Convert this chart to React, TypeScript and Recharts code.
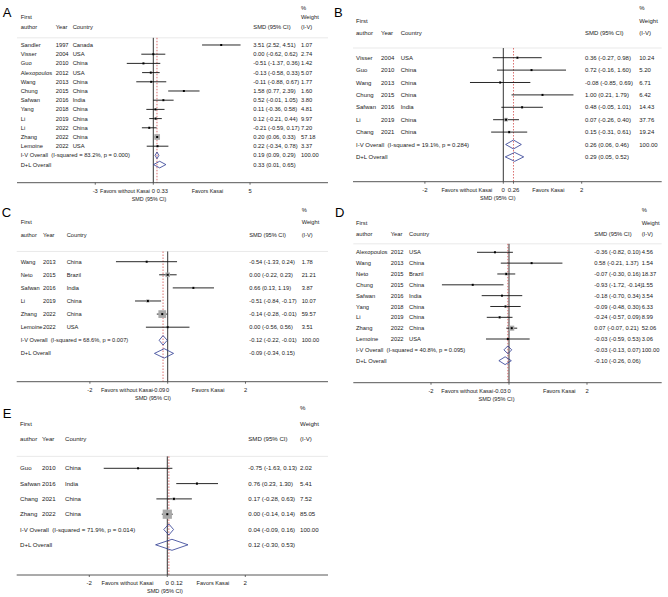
import { ScatterChart, Scatter, XAxis, YAxis, ErrorBar, ReferenceLine } from 'recharts';

// ---------- A: all studies ----------
const aAuthor = ['Sandler', 'Visser', 'Guo', 'Alexopoulos', 'Wang', 'Chung', 'Safwan', 'Yang', 'Li', 'Li', 'Zhang', 'Lemoine'];
const aYear = [1997, 2004, 2010, 2012, 2013, 2015, 2016, 2018, 2019, 2022, 2022, 2022];
const aCountry = ['Canada', 'USA', 'China', 'USA', 'China', 'China', 'India', 'China', 'China', 'China', 'China', 'USA'];
const aSmd = [3.51, 0.0, -0.51, -0.13, -0.11, 1.58, 0.52, 0.11, 0.12, -0.21, 0.2, 0.22];
const aLow = [2.52, -0.62, -1.37, -0.58, -0.88, 0.77, -0.01, -0.36, -0.21, -0.59, 0.06, -0.34];
const aHigh = [4.51, 0.62, 0.36, 0.33, 0.67, 2.39, 1.05, 0.58, 0.44, 0.17, 0.33, 0.78];
const aWeight = [1.07, 2.74, 1.42, 5.07, 1.77, 1.6, 3.8, 4.81, 9.97, 7.2, 57.18, 3.37];
const aPooled = [[0.19, 0.09, 0.29], [0.33, 0.01, 0.65]]; // I-V, D+L
const aHet = ['83.2', '0.000'];
const aTicks = [-3, 0, 0.33, 5];

// ---------- B ----------
const bAuthor = ['Visser', 'Guo', 'Wang', 'Chung', 'Safwan', 'Li', 'Chang'];
const bYear = [2004, 2010, 2013, 2015, 2016, 2019, 2021];
const bCountry = ['USA', 'China', 'China', 'China', 'India', 'China', 'China'];
const bSmd = [0.36, 0.72, -0.08, 1.0, 0.48, 0.07, 0.15];
const bLow = [-0.27, -0.16, -0.85, 0.21, -0.05, -0.26, -0.31];
const bHigh = [0.98, 1.6, 0.69, 1.79, 1.01, 0.4, 0.61];
const bWeight = [10.24, 5.2, 6.71, 6.42, 14.43, 37.76, 19.24];
const bPooled = [[0.26, 0.06, 0.46], [0.29, 0.05, 0.52]];
const bHet = ['19.1', '0.284'];
const bTicks = [-2, 0, 0.26, 2];

// ---------- C ----------
const cAuthor = ['Wang', 'Neto', 'Safwan', 'Li', 'Zhang', 'Lemoine'];
const cYear = [2013, 2015, 2016, 2019, 2022, 2022];
const cCountry = ['China', 'Brazil', 'India', 'China', 'China', 'USA'];
const cSmd = [-0.54, 0.0, 0.66, -0.51, -0.14, 0.0];
const cLow = [-1.33, -0.22, 0.13, -0.84, -0.28, -0.56];
const cHigh = [0.24, 0.23, 1.19, -0.17, -0.01, 0.56];
const cWeight = [1.78, 21.21, 3.87, 10.07, 59.57, 3.51];
const cPooled = [[-0.12, -0.22, -0.01], [-0.09, -0.34, 0.15]];
const cHet = ['68.6', '0.007'];
const cTicks = [-2, -0.09, 0, 2];

// ---------- D ----------
const dAuthor = ['Alexopoulos', 'Wang', 'Neto', 'Chung', 'Safwan', 'Yang', 'Li', 'Zhang', 'Lemoine'];
const dYear = [2012, 2013, 2015, 2015, 2016, 2018, 2019, 2022, 2022];
const dCountry = ['USA', 'China', 'Brazil', 'China', 'India', 'China', 'China', 'China', 'USA'];
const dSmd = [-0.36, 0.58, -0.07, -0.93, -0.18, -0.09, -0.24, 0.07, -0.03];
const dLow = [-0.82, -0.21, -0.3, -1.72, -0.7, -0.48, -0.57, -0.07, -0.59];
const dHigh = [0.1, 1.37, 0.16, -0.14, 0.34, 0.3, 0.09, 0.21, 0.53];
const dWeight = [4.56, 1.54, 18.37, 1.55, 3.54, 6.33, 8.99, 52.06, 3.06];
const dPooled = [[-0.03, -0.13, 0.07], [-0.1, -0.26, 0.06]];
const dHet = ['40.8', '0.095'];
const dTicks = [-2, -0.03, 0, 2];

// ---------- E ----------
const eAuthor = ['Guo', 'Safwan', 'Chang', 'Zhang'];
const eYear = [2010, 2016, 2021, 2022];
const eCountry = ['China', 'India', 'China', 'China'];
const eSmd = [-0.75, 0.76, 0.17, 0.0];
const eLow = [-1.63, 0.23, -0.28, -0.14];
const eHigh = [0.13, 1.3, 0.63, 0.14];
const eWeight = [2.02, 5.41, 7.52, 85.05];
const ePooled = [[0.04, -0.09, 0.16], [0.12, -0.3, 0.53]];
const eHet = ['71.9', '0.014'];
const eTicks = [-2, 0, 0.12, 2];

// page layout of each panel (pixels, page coordinates)
const layoutA = { ox: 0, oy: 0, w: 336, axisL: 17, axisR: 328, zero: 153.3, ppu: 19.35, row0: 45, step: 9.2, axisY: 182.7, hdr: [-4, -3, -2], cols: [20.7, 55.7, 72.7, 253.3, 301], box: 0.75, fs: 5.8, afs: 5.4, favors: [-1.46, 2.8], title: -0.22 };
const layoutB = { ox: 334, oy: 0, w: 334, axisL: 353, axisR: 661.7, zero: 503.3, ppu: 39.2, row0: 57.7, step: 12.4, axisY: 181.7, hdr: [-4, -3, -2], cols: [356, 381, 400.7, 585, 639.3], box: 0.6, fs: 6, afs: 5.5, favors: [-0.93, 1.15], title: -0.14 };
const layoutC = { ox: 0, oy: 202, w: 336, axisL: 16.7, axisR: 328, zero: 167.7, ppu: 38.9, row0: 261.7, step: 13.1, axisY: 381.7, hdr: [-3.95, -3, -2.03], cols: [20.7, 43, 66.7, 249.3, 301.7], box: 1.0, fs: 5.7, afs: 5.6, favors: [-1.05, 1.04], title: -0.38 };
const layoutD = { ox: 334, oy: 202, w: 334, axisL: 353.3, axisR: 661.7, zero: 509, ppu: 39, row0: 252.3, step: 10.84, axisY: 382.7, hdr: [-3.9, -2.73, -1.66], cols: [356, 390.7, 409, 594.3, 641.7], box: 0.7, fs: 5.8, afs: 5.6, favors: [-1.07, 1.29], title: -0.32 };
const layoutE = { ox: 0, oy: 397, w: 336, axisL: 16.7, axisR: 328, zero: 167.3, ppu: 39, row0: 468.3, step: 15.3, axisY: 575, hdr: [-3.96, -2.94, -1.96], cols: [20, 42, 65, 248.3, 300], box: 1.0, fs: 6.1, afs: 5.6, favors: [-1.02, 1.17], title: -0.06 };

const panels = [
  { id: 'A', author: aAuthor, year: aYear, country: aCountry, smd: aSmd, low: aLow, high: aHigh, weight: aWeight, pooled: aPooled, het: aHet, ticks: aTicks, L: layoutA, lx: 2.7, ly: 16.7 },
  { id: 'B', author: bAuthor, year: bYear, country: bCountry, smd: bSmd, low: bLow, high: bHigh, weight: bWeight, pooled: bPooled, het: bHet, ticks: bTicks, L: layoutB, lx: 334, ly: 17.3 },
  { id: 'C', author: cAuthor, year: cYear, country: cCountry, smd: cSmd, low: cLow, high: cHigh, weight: cWeight, pooled: cPooled, het: cHet, ticks: cTicks, L: layoutC, lx: 1.7, ly: 217 },
  { id: 'D', author: dAuthor, year: dYear, country: dCountry, smd: dSmd, low: dLow, high: dHigh, weight: dWeight, pooled: dPooled, het: dHet, ticks: dTicks, L: layoutD, lx: 335, ly: 217.3 },
  { id: 'E', author: eAuthor, year: eYear, country: eCountry, smd: eSmd, low: eLow, high: eHigh, weight: eWeight, pooled: ePooled, het: eHet, ticks: eTicks, L: layoutE, lx: 2.7, ly: 417.7 },
];

const FONT = '"Liberation Sans", Arial, sans-serif';
const INK = '#1a1a1a';
const NAVY = '#2b3990';
const TOP_ROW = -0.78; // where the rule and reference lines start

const fmt = (v: number) => v.toFixed(2);
const ci = (e: number, lo: number, hi: number) => `${fmt(e)} (${fmt(lo)}, ${fmt(hi)})`;

function ForestPanel({ d }: { d: any }) {
  const L = d.L;
  const n = d.author.length;
  const fs = L.fs;
  const xMin = (L.axisL - L.zero) / L.ppu;
  const xMax = (L.axisR - L.zero) / L.ppu;
  const top = 2;
  const axisH = 22;
  const h = L.axisY - L.oy + axisH;
  const yMin = (L.oy + top - L.row0) / L.step;
  const yMax = (L.axisY - L.row0) / L.step;

  const studies = d.smd.map((v: number, i: number) => ({
    x: v, y: i, w: d.weight[i], err: [v - d.low[i], d.high[i] - v],
  }));
  const diamond = (k: number) => {
    const [e, lo, hi] = d.pooled[k];
    const r = n + k;
    return [{ x: lo, y: r }, { x: e, y: r - 0.36 }, { x: hi, y: r }, { x: e, y: r + 0.36 }, { x: lo, y: r }];
  };

  const col = L.cols.map((c: number) => c - L.ox);
  const yTicks = [...L.hdr, ...Array.from({ length: n + 2 }, (_, i) => i)];
  const xTicks = [...d.ticks, ...L.favors, L.title];

  const T = (x: number, y: number, s: string, key: string, size = fs, anchor = 'start') => (
    <text key={key} x={x} y={y} fontSize={size} fill={INK} fontFamily={FONT} textAnchor={anchor} style={{ whiteSpace: 'pre' }}>{s}</text>
  );

  const renderY = (props: any) => {
    const { y, payload } = props;
    const v = payload.value;
    const by = y + fs * 0.36;
    const hi = L.hdr.indexOf(v);
    if (hi === 0) return <g>{T(col[4], by, '%', 'p')}</g>;
    if (hi === 1) return <g>{T(col[0], by, 'First', 'f')}{T(col[4], by, 'Weight', 'w')}</g>;
    if (hi === 2) {
      return (
        <g>
          {T(col[0], by, 'author', 'a')}{T(col[1], by, 'Year', 'y')}{T(col[2], by, 'Country', 'c')}
          {T(col[3], by, 'SMD (95% CI)', 's')}{T(col[4], by, '(I-V)', 'iv')}
        </g>
      );
    }
    if (v < n) {
      return (
        <g>
          {T(col[0], by, d.author[v], 'a')}{T(col[1], by, String(d.year[v]), 'y')}{T(col[2], by, d.country[v], 'c')}
          {T(col[3], by, ci(d.smd[v], d.low[v], d.high[v]), 's')}{T(col[4], by, fmt(d.weight[v]), 'w')}
        </g>
      );
    }
    if (v === n) {
      const [e, lo, hiV] = d.pooled[0];
      return (
        <g>
          {T(col[0], by, `I-V Overall  (I-squared = ${d.het[0]}%, p = ${d.het[1]})`, 'a')}
          {T(col[3], by, ci(e, lo, hiV), 's')}{T(col[4], by, '100.00', 'w')}
        </g>
      );
    }
    const [e, lo, hiV] = d.pooled[1];
    return <g>{T(col[0], by, 'D+L Overall', 'a')}{T(col[3], by, ci(e, lo, hiV), 's')}</g>;
  };

  const renderX = (props: any) => {
    const { x, y, payload } = props;
    const v = payload.value;
    const ay = y - 2; // tickSize 2, tickMargin 0
    const lab = ay + 10.3;
    if (v === L.favors[0]) return T(x, lab, 'Favors without Kasai', 'fw', L.afs, 'middle');
    if (v === L.favors[1]) return T(x, lab, 'Favors Kasai', 'fk', L.afs, 'middle');
    if (v === L.title) return T(x, ay + 18.3, 'SMD (95% CI)', 'tt', L.afs, 'middle');
    const zeroX = x - v * L.ppu;
    let tx = x;
    let anchor = 'middle';
    if (v !== 0 && Math.abs(v * L.ppu) < 8) {
      if (v > 0) { tx = zeroX + 3.5; anchor = 'start'; } else { tx = zeroX - 2.4; anchor = 'end'; }
    }
    return (
      <g>
        {Number.isInteger(v) || Math.abs(v * L.ppu) >= 8 ? <line x1={x} x2={x} y1={ay} y2={ay + 2} stroke="#444" strokeWidth={0.8} /> : null}
        {T(tx, lab, String(v), 'n', fs, anchor)}
      </g>
    );
  };

  const boxShape = (props: any) => {
    const { cx, cy, payload } = props;
    const s = L.box * Math.sqrt(payload.w);
    return <rect x={cx - s / 2} y={cy - s / 2} width={s} height={s} fill="#a9a9a9" />;
  };
  const dot = (props: any) => <rect x={props.cx - 1} y={props.cy - 1} width={2} height={2} fill="#000" />;
  const none = () => <g />;

  return (
    <div style={{ position: 'absolute', left: L.ox, top: L.oy }}>
      <ScatterChart width={L.w} height={h} margin={{ top, bottom: 0, left: L.axisL - L.ox - 1, right: L.ox + L.w - L.axisR }}>
        <XAxis type="number" dataKey="x" domain={[xMin, xMax]} allowDataOverflow ticks={xTicks} interval={0}
          height={axisH} tickSize={2} tickMargin={0} tickLine={false} axisLine={{ stroke: '#444', strokeWidth: 0.9 }} tick={renderX} />
        <YAxis type="number" dataKey="y" domain={[yMin, yMax]} allowDataOverflow reversed ticks={yTicks} interval={0}
          width={1} axisLine={false} tickLine={false} tick={renderY} />
        <ReferenceLine y={TOP_ROW} stroke="#e3e3e3" strokeWidth={0.8} />
        <ReferenceLine segment={[{ x: 0, y: TOP_ROW }, { x: 0, y: yMax }]} stroke="#333" strokeWidth={1} />
        <ReferenceLine segment={[{ x: d.pooled[0][0], y: TOP_ROW }, { x: d.pooled[0][0], y: yMax }]} stroke="#d24b4b" strokeWidth={0.8} strokeDasharray="1.5 1.5" />
        <Scatter data={studies} shape={boxShape} isAnimationActive={false} />
        <Scatter data={studies} shape={dot} isAnimationActive={false}>
          <ErrorBar dataKey="err" direction="x" width={0} stroke="#111" strokeWidth={0.9} />
        </Scatter>
        <Scatter data={diamond(0)} shape={none} line={{ stroke: NAVY, strokeWidth: 0.8 }} isAnimationActive={false} />
        <Scatter data={diamond(1)} shape={none} line={{ stroke: NAVY, strokeWidth: 0.8 }} isAnimationActive={false} />
      </ScatterChart>
    </div>
  );
}

export default function App() {
  return (
    <div style={{ position: 'absolute', left: 0, top: 0, width: 668, height: 597, background: '#fff' }}>
      <svg width={668} height={597} style={{ position: 'absolute', left: 0, top: 0 }}>
        {panels.map((p) => (
          <text key={p.id} x={p.lx} y={p.ly} fontSize={13} fontFamily={FONT} fill="#000">{p.id}</text>
        ))}
      </svg>
      {panels.map((p) => <ForestPanel key={p.id} d={p} />)}
    </div>
  );
}
